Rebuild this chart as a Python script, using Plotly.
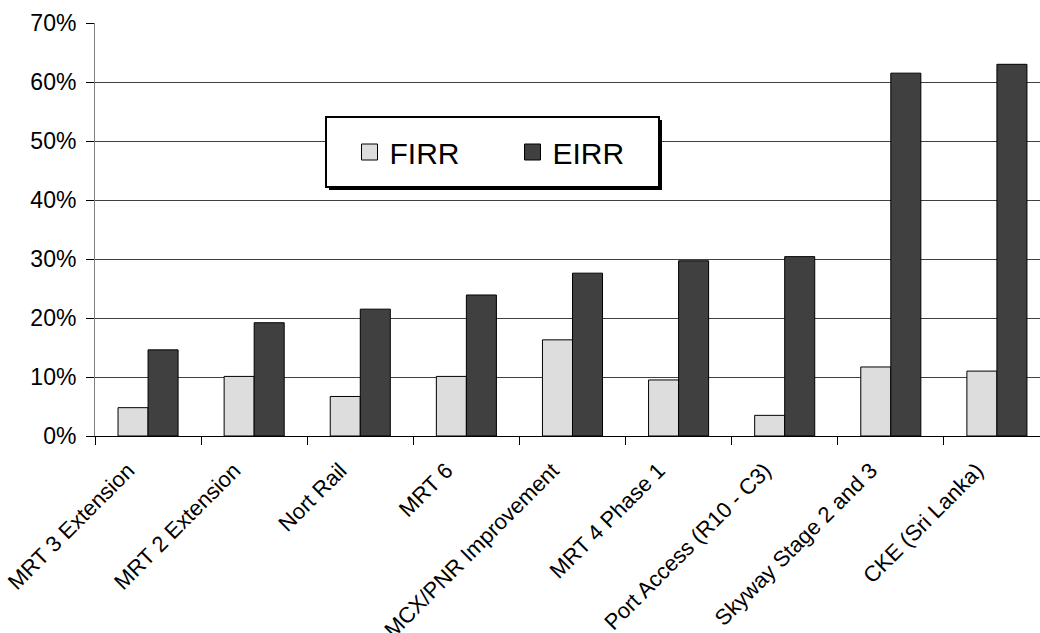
import plotly.graph_objects as go

projects = [
    "MRT 3 Extension", "MRT 2 Extension", "Nort Rail", "MRT 6",
    "MCX/PNR Improvement", "MRT 4 Phase 1", "Port Access (R10 - C3)",
    "Skyway Stage 2 and 3", "CKE (Sri Lanka)",
]
firr = [0.048, 0.101, 0.067, 0.101, 0.163, 0.095, 0.035, 0.117, 0.110]
eirr = [0.146, 0.192, 0.215, 0.239, 0.276, 0.297, 0.304, 0.615, 0.630]

y_ticks = [0, 0.1, 0.2, 0.3, 0.4, 0.5, 0.6, 0.7]
y_tick_text = ["0%", "10%", "20%", "30%", "40%", "50%", "60%", "70%"]

FONT = "Liberation Sans, Arial, sans-serif"
LIGHT = "#dddddd"
DARK = "#404040"

W, H = 1040, 633
ML, MR, MT, MB = 95, 0, 23, 197
PW, PH = W - ML - MR, H - MT - MB


def px_x(v):
    return (v - ML) / PW


def px_y(v):
    return (H - MB - v) / PH


fig = go.Figure()
fig.add_trace(go.Bar(
    x=projects, y=firr, name="FIRR", showlegend=False,
    marker=dict(color=LIGHT, line=dict(color="black", width=1)),
))
fig.add_trace(go.Bar(
    x=projects, y=eirr, name="EIRR", showlegend=False,
    marker=dict(color=DARK, line=dict(color="black", width=1)),
))

# legend entries with larger square swatches
for name, col in (("FIRR", LIGHT), ("EIRR", DARK)):
    fig.add_trace(go.Scatter(
        x=[None], y=[None], mode="markers", name=name,
        marker=dict(symbol="square", size=16, color=col,
                    line=dict(color="black", width=1)),
    ))

# legend frame with drop shadow
bx0, bx1, by0, by1 = 326, 659, 117, 187
fig.add_shape(type="rect", xref="paper", yref="paper", layer="above",
              x0=px_x(bx0 + 3), x1=px_x(bx1 + 3), y0=px_y(by1 + 3), y1=px_y(by0 + 3),
              line=dict(width=0), fillcolor="black")
fig.add_shape(type="rect", xref="paper", yref="paper", layer="above",
              x0=px_x(bx0), x1=px_x(bx1), y0=px_y(by1), y1=px_y(by0),
              line=dict(color="black", width=2), fillcolor="white")

fig.update_layout(
    width=W, height=H,
    margin=dict(l=ML, r=MR, t=MT, b=MB, pad=0, autoexpand=False),
    paper_bgcolor="white", plot_bgcolor="white",
    font=dict(family=FONT, size=22, color="black"),
    barmode="group", bargap=0.434, bargroupgap=0,
    legend=dict(
        orientation="h", x=px_x((bx0 + bx1) / 2 + 20), y=px_y((by0 + by1) / 2),
        xanchor="center", yanchor="middle",
        bgcolor="rgba(0,0,0,0)", borderwidth=0,
        font=dict(family=FONT, size=30, color="black"),
        entrywidth=118,
    ),
    xaxis=dict(
        type="category", range=[-0.5, 8.406], automargin=False,
        tickangle=-45, tickson="boundaries",
        ticks="outside", ticklen=8, tickcolor="black",
        showline=True, linecolor="black", linewidth=1,
        showgrid=False, zeroline=False,
        ticklabelstandoff=12, ticklabelshift=-20,
        tickfont=dict(family=FONT, size=22, color="black"),
    ),
    yaxis=dict(
        range=[0, 0.7], tickvals=y_ticks, ticktext=y_tick_text,
        automargin=False,
        ticks="outside", ticklen=8, tickcolor="black",
        showline=True, linecolor="#808080", linewidth=1,
        showgrid=True, gridcolor="#404040", gridwidth=1,
        zeroline=False, ticklabelstandoff=5,
        tickfont=dict(family=FONT, size=23, color="black"),
    ),
)

fig.write_html("out.html")
